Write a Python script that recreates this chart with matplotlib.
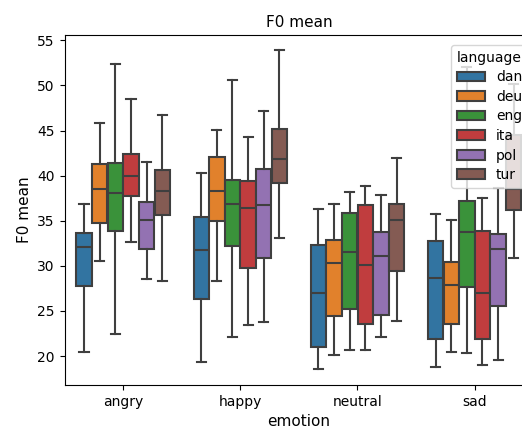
import matplotlib
matplotlib.use("Agg")
import matplotlib.pyplot as plt
from matplotlib.patches import Patch

emotions = ["angry", "happy", "neutral", "sad"]
languages = ["dan", "deu", "eng", "ita", "pol", "tur"]
colors = ["#3274a1", "#e1812c", "#3a923a", "#c03d3e", "#9372b2", "#845b53"]
line_color = "#3f3f3f"

# per emotion, per language: [whislo, q1, median, q3, whishi]
angry = [
    [20.4, 27.8, 32.1, 33.6, 36.9],
    [30.5, 34.8, 38.5, 41.3, 45.8],
    [22.5, 33.9, 38.1, 41.4, 52.4],
    [32.6, 37.7, 40.0, 42.4, 48.5],
    [28.5, 31.9, 35.1, 37.1, 41.5],
    [28.3, 35.6, 38.3, 40.6, 46.7],
]
happy = [
    [19.3, 26.3, 31.8, 35.4, 40.3],
    [28.3, 35.0, 38.3, 42.1, 45.1],
    [22.1, 32.2, 36.9, 39.5, 50.6],
    [23.5, 29.8, 36.4, 39.4, 44.3],
    [23.8, 30.9, 36.7, 40.7, 47.2],
    [33.1, 39.2, 41.8, 45.2, 53.9],
]
neutral = [
    [18.6, 21.0, 27.0, 32.3, 36.3],
    [20.1, 24.4, 30.3, 32.9, 36.9],
    [20.7, 25.2, 31.5, 35.9, 38.2],
    [20.7, 23.6, 30.1, 36.7, 38.8],
    [22.1, 24.6, 31.1, 33.8, 37.9],
    [23.9, 29.4, 35.1, 36.9, 41.9],
]
sad = [
    [18.8, 21.9, 28.7, 32.8, 35.7],
    [20.4, 23.6, 27.9, 30.4, 35.1],
    [20.3, 27.7, 33.7, 37.2, 52.0],
    [19.0, 21.9, 27.0, 33.9, 37.5],
    [19.6, 25.5, 31.9, 33.5, 38.6],
    [30.9, 36.2, 38.5, 44.5, 50.2],
]
values = [angry, happy, neutral, sad]

fig = plt.figure(figsize=(5.22, 4.28), dpi=100)
ax = fig.add_axes([0.1236, 0.1005, 0.898, 0.817])

n = len(languages)
step = 0.8 / n
width = step * 0.98

for i, emo in enumerate(values):
    for j, v in enumerate(emo):
        stats = [{"whislo": v[0], "q1": v[1], "med": v[2], "q3": v[3],
                  "whishi": v[4], "fliers": []}]
        pos = i + (j - (n - 1) / 2) * step
        ax.bxp(stats, positions=[pos], widths=[width], capwidths=[width * 0.6],
               patch_artist=True, showfliers=False, manage_ticks=False,
               boxprops=dict(facecolor=colors[j], edgecolor=line_color, linewidth=1.5),
               medianprops=dict(color=line_color, linewidth=1.5),
               whiskerprops=dict(color=line_color, linewidth=1.5),
               capprops=dict(color=line_color, linewidth=1.5))

ax.set_xlim(-0.5, 3.5)
ax.set_ylim(16.8, 55.55)
ax.set_xticks(range(len(emotions)))
ax.set_xticklabels(emotions)
ax.set_xlabel("emotion", fontsize=11)
ax.set_ylabel("F0 mean", fontsize=11)
ax.set_title("F0 mean", fontsize=11)

handles = [Patch(facecolor=c, edgecolor=line_color, linewidth=1.5, label=l)
           for c, l in zip(colors, languages)]
ax.legend(handles=handles, title="language", loc="upper right",
          bbox_to_anchor=(1.003, 0.9914), labelspacing=0.4)

fig.savefig("out.png", dpi=100)
